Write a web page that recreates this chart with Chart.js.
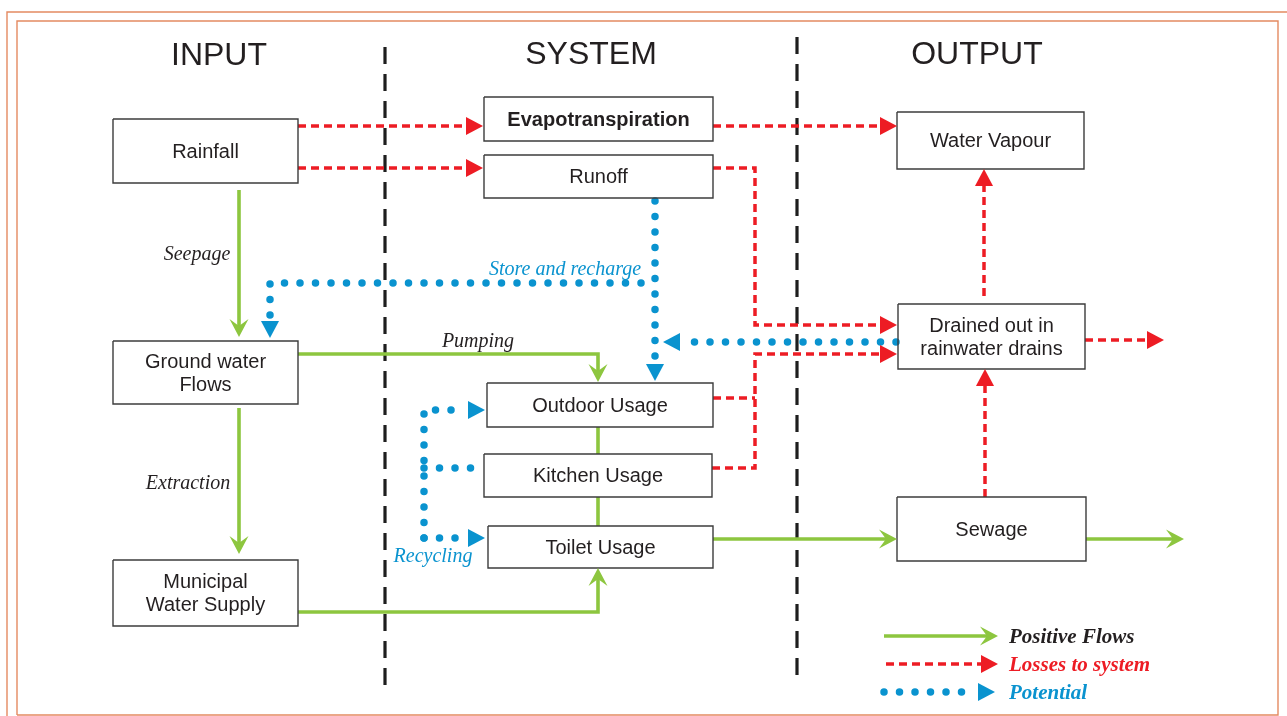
<!DOCTYPE html>
<html>
<head>
<meta charset="utf-8">
<title>Water flows</title>
<script src="https://cdn.jsdelivr.net/npm/chart.js@4/dist/chart.umd.min.js"></script>
<style>
  html, body { margin: 0; padding: 0; background: #fff; overflow: hidden; }
  #wrap { width: 1287px; height: 716px; }
</style>
</head>
<body>
<div id="wrap"><canvas id="flowChart" width="1287" height="716"></canvas></div>
<script>
// diagram units = page pixels, y grows downwards
const columnTitles = ["INPUT", "SYSTEM", "OUTPUT"];
const columnX = [219, 591, 977];
const columnY = [56, 55, 55];

const nodeLabels = [
  "Rainfall", "Evapotranspiration", "Runoff", "Water Vapour",
  "Ground water\nFlows", "Drained out in\nrainwater drains", "Outdoor Usage",
  "Kitchen Usage", "Toilet Usage", "Municipal\nWater Supply", "Sewage"
];
const nodeLeft = [113, 484, 484, 897, 113, 898, 487, 484, 488, 113, 897];
const nodeTop = [119, 97, 155, 112, 341, 304, 383, 454, 526, 560, 497];
const nodeRight = [298, 713, 713, 1084, 298, 1085, 713, 712, 713, 298, 1086];
const nodeBottom = [183, 141, 198, 169, 404, 369, 427, 497, 568, 626, 561];
const boldNodes = ["Evapotranspiration"];

const dividerLines = [
  [[385, 47], [385, 690]],
  [[797, 37], [797, 678]]
];

// flows that end with an arrow head (last point = tip)
const positiveFlows = [
  [[239, 190], [239, 337]],
  [[239, 408], [239, 554]],
  [[298, 354], [598, 354], [598, 382]],
  [[298, 612], [598, 612], [598, 568]],
  [[713, 539], [897, 539]],
  [[1086, 539], [1184, 539]]
];
const positiveLinks = [
  [[598, 427], [598, 454]],
  [[598, 497], [598, 526]]
];
const lossFlows = [
  [[298, 126], [483, 126]],
  [[298, 168], [483, 168]],
  [[713, 126], [897, 126]],
  [[713, 168], [755, 168], [755, 325], [897, 325]],
  [[712, 468], [755, 468], [755, 354], [897, 354]],
  [[984, 296], [984, 169]],
  [[985, 497], [985, 369]],
  [[1085, 340], [1164, 340]]
];
const lossLinks = [
  [[713, 398], [755, 398]]
];
const potentialFlows = [
  [[655, 201], [655, 381]],
  [[641, 283], [270, 283], [270, 338]],
  [[896, 342], [663, 342]],
  [[424, 538], [424, 410], [485, 410]],
  [[424, 538], [485, 538]]
];
const potentialLinks = [
  [[424, 468], [472, 468]]
];

const flowLabels = ["Seepage", "Extraction", "Pumping", "Store and recharge", "Recycling"];
const flowLabelX = [197, 188, 478, 565, 433];
const flowLabelY = [255, 484, 342, 270, 557];
const flowLabelKind = ["plain", "plain", "plain", "potential", "potential"];

const legendLabels = ["Positive Flows", "Losses to system", "Potential"];
const legendKinds = ["positive", "loss", "potential"];
const legendLines = [
  [[884, 636], [998, 636]],
  [[886, 664], [998, 664]],
  [[884, 692], [995, 692]]
];
const legendTextX = 1009;

const frameOuter = [[7, 716], [7, 12], [1287, 12]];
const frameInner = [[17, 715], [17, 21], [1278, 21], [1278, 715], [17, 715]];

const colors = {
  positive: "#8dc63f",
  loss: "#ed1c24",
  potential: "#0a93cf",
  plain: "#231f20",
  frame: "#e48a61",
  box: "#3c3c3c"
};

const styles = {
  positive: { color: colors.positive, width: 3.6, dash: [], cap: "butt", cut: 6, head: "chevron" },
  loss: { color: colors.loss, width: 3.5, dash: [8, 5], cap: "butt", cut: 12, head: "triangle" },
  potential: { color: colors.potential, width: 7.5, dash: [0, 15.5], cap: "round", cut: 19, head: "triangle" }
};

const toXY = (pts) => pts.map(([x, y]) => ({ x, y }));

function flowDataset(points, kind, arrow) {
  const s = styles[kind];
  let data = toXY(points);
  let tip = null;
  if (arrow) {
    tip = data[data.length - 1];
    const prev = data[data.length - 2];
    const len = Math.hypot(tip.x - prev.x, tip.y - prev.y);
    const end = {
      x: tip.x - ((tip.x - prev.x) / len) * s.cut,
      y: tip.y - ((tip.y - prev.y) / len) * s.cut
    };
    data = data.slice(0, -1).concat([end]);
  }
  return {
    type: "line",
    data: data,
    showLine: true,
    borderColor: s.color,
    borderWidth: s.width,
    borderDash: s.dash,
    borderCapStyle: s.cap,
    borderJoinStyle: "miter",
    pointRadius: 0,
    fill: false,
    clip: false,
    tension: 0,
    tip: tip,
    head: s.head,
    headColor: s.color
  };
}

function plainLine(points, color, width, dash) {
  return {
    type: "line",
    data: toXY(points),
    showLine: true,
    borderColor: color,
    borderWidth: width,
    borderDash: dash,
    borderCapStyle: "butt",
    pointRadius: 0,
    fill: false,
    clip: false,
    tension: 0
  };
}

const datasets = [];
nodeLabels.forEach((label, i) => {
  datasets.push(plainLine([
    [nodeLeft[i], nodeTop[i]], [nodeRight[i], nodeTop[i]],
    [nodeRight[i], nodeBottom[i]], [nodeLeft[i], nodeBottom[i]],
    [nodeLeft[i], nodeTop[i]]
  ], colors.box, 1.4, []));
});
positiveFlows.forEach((p) => datasets.push(flowDataset(p, "positive", true)));
positiveLinks.forEach((p) => datasets.push(flowDataset(p, "positive", false)));
lossFlows.forEach((p) => datasets.push(flowDataset(p, "loss", true)));
lossLinks.forEach((p) => datasets.push(flowDataset(p, "loss", false)));
potentialFlows.forEach((p) => datasets.push(flowDataset(p, "potential", true)));
potentialLinks.forEach((p) => datasets.push(flowDataset(p, "potential", false)));
legendLines.forEach((p, i) => datasets.push(flowDataset(p, legendKinds[i], true)));
dividerLines.forEach((p) => datasets.push(plainLine(p, "#1e1e1e", 3.2, [17, 10])));
datasets.push(plainLine(frameOuter, colors.frame, 1.4, []));
datasets.push(plainLine(frameInner, colors.frame, 1.4, []));

const diagramPlugin = {
  id: "diagram",
  afterDatasetsDraw(chart) {
    const ctx = chart.ctx;
    const xs = chart.scales.x;
    const ys = chart.scales.y;
    ctx.save();
    chart.data.datasets.forEach((ds, i) => {
      if (!ds.tip) return;
      const meta = chart.getDatasetMeta(i);
      const last = meta.data[meta.data.length - 1];
      const prev = meta.data[meta.data.length - 2];
      const tx = xs.getPixelForValue(ds.tip.x);
      const ty = ys.getPixelForValue(ds.tip.y);
      const dx = tx - prev.x;
      const dy = ty - prev.y;
      const len = Math.hypot(dx, dy);
      const ux = dx / len;
      const uy = dy / len;
      const nx = -uy;
      const ny = ux;
      ctx.fillStyle = ds.headColor;
      ctx.strokeStyle = ds.headColor;
      if (ds.head === "triangle") {
        const L = 17;
        const W = 9;
        ctx.beginPath();
        ctx.moveTo(tx, ty);
        ctx.lineTo(tx - ux * L + nx * W, ty - uy * L + ny * W);
        ctx.lineTo(tx - ux * L - nx * W, ty - uy * L - ny * W);
        ctx.closePath();
        ctx.fill();
      } else {
        // filled arrow head with a notch, like a thick chevron
        const L = 18;
        const W = 9.5;
        const N = 11;
        ctx.beginPath();
        ctx.moveTo(tx, ty);
        ctx.lineTo(tx - ux * L + nx * W, ty - uy * L + ny * W);
        ctx.lineTo(tx - ux * N, ty - uy * N);
        ctx.lineTo(tx - ux * L - nx * W, ty - uy * L - ny * W);
        ctx.closePath();
        ctx.fill();
        ctx.lineWidth = 3.6;
        ctx.beginPath();
        ctx.moveTo(last.x, last.y);
        ctx.lineTo(tx - ux * 4, ty - uy * 4);
        ctx.stroke();
      }
    });

    ctx.textAlign = "center";
    ctx.textBaseline = "middle";
    ctx.fillStyle = colors.plain;

    ctx.font = "32px 'Liberation Sans', Arial, sans-serif";
    columnTitles.forEach((t, i) => {
      ctx.fillText(t, xs.getPixelForValue(columnX[i]), ys.getPixelForValue(columnY[i]));
    });

    nodeLabels.forEach((label, i) => {
      const bold = boldNodes.includes(label);
      ctx.font = (bold ? "bold " : "") + "20px 'Liberation Sans', Arial, sans-serif";
      const lines = label.split("\n");
      const cx = xs.getPixelForValue((nodeLeft[i] + nodeRight[i]) / 2);
      const cy = ys.getPixelForValue((nodeTop[i] + nodeBottom[i]) / 2) + 1;
      const lh = 23;
      lines.forEach((ln, k) => {
        ctx.fillText(ln, cx, cy + (k - (lines.length - 1) / 2) * lh);
      });
    });

    ctx.font = "italic 20px 'Liberation Serif', 'Times New Roman', serif";
    flowLabels.forEach((t, i) => {
      ctx.fillStyle = colors[flowLabelKind[i]];
      ctx.fillText(t, xs.getPixelForValue(flowLabelX[i]), ys.getPixelForValue(flowLabelY[i]));
    });

    ctx.textAlign = "left";
    ctx.font = "italic bold 21px 'Liberation Serif', 'Times New Roman', serif";
    legendLabels.forEach((t, i) => {
      ctx.fillStyle = legendKinds[i] === "positive" ? colors.plain : colors[legendKinds[i]];
      const y = legendLines[i][0][1] + 2;
      ctx.fillText(t, xs.getPixelForValue(legendTextX), ys.getPixelForValue(y));
    });
    ctx.restore();
  }
};

const ctx = document.getElementById("flowChart").getContext("2d");
const flowChart = new Chart(ctx, {
  type: "scatter",
  data: { datasets: datasets },
  options: {
    responsive: false,
    animation: false,
    devicePixelRatio: 1,
    events: [],
    layout: { padding: 0 },
    scales: {
      x: { type: "linear", min: 0, max: 1287, display: false },
      y: { type: "linear", min: 0, max: 716, reverse: true, display: false }
    },
    plugins: {
      legend: { display: false },
      tooltip: { enabled: false }
    }
  },
  plugins: [diagramPlugin]
});
</script>
</body>
</html>
